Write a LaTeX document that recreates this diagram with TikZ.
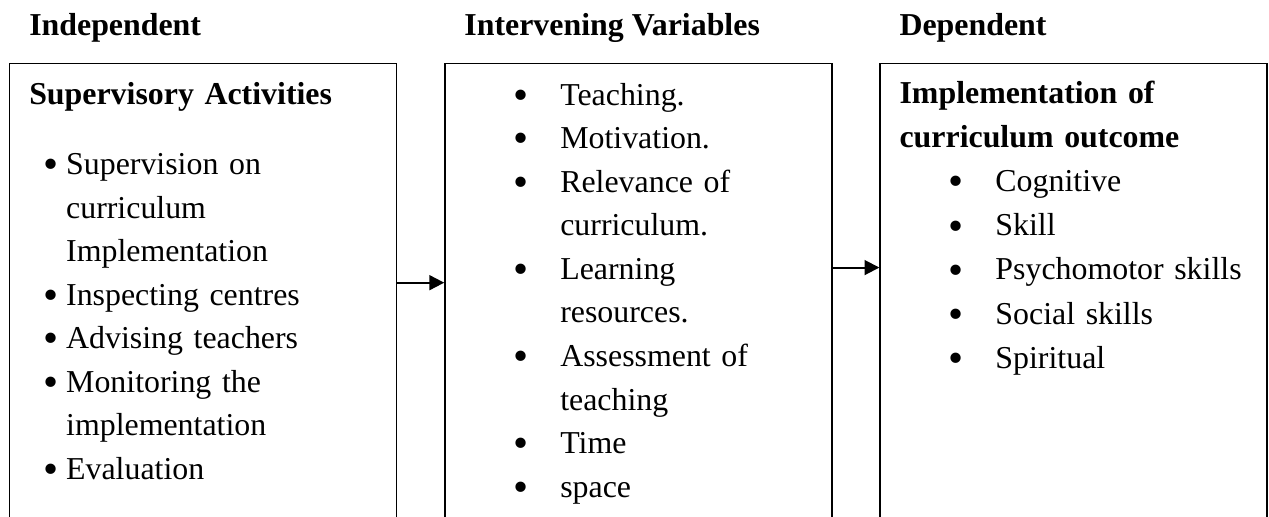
\documentclass[tikz,border=0pt]{standalone}
\usepackage{fontspec}
\setmainfont{Liberation Serif}
\usetikzlibrary{arrows.meta,positioning}

% bullet with hanging indent: narrow (left column) and wide (other columns)
\newcommand{\bigbul}{\raisebox{-1.6pt}{\scalebox{1.35}{\textbullet}}}
\newcommand{\nbul}{\hspace*{5.3pt}\makebox[8.6pt][l]{\bigbul}}
\newcommand{\nind}{\hspace*{13.9pt}}
\newcommand{\wbul}{\hspace*{18.4pt}\makebox[17.7pt][l]{\bigbul}}
\newcommand{\wind}{\hspace*{36.1pt}}

\begin{document}
\begin{tikzpicture}[
  font={\fontsize{12}{16.4}\selectfont},
  column/.style={draw,line width=.5pt,minimum width=5.12cm,minimum height=7cm,inner sep=0pt},
  colhead/.style={font={\fontsize{12}{16.4}\selectfont\bfseries},anchor=base west,inner sep=0pt},
  colitems/.style={anchor=base west,align=left,text width=4.8cm,inner sep=0pt},
  flow/.style={-{Triangle[length=5.6pt,width=5.6pt]},line width=.75pt}
]
\clip (0,0) rectangle (16.79,-6.83);

% the three columns run on past the lower edge
\node[column,anchor=north west] (indep) at (.12,-.83) {};
\node[column,right=.62cm of indep] (interv) {};
\node[column,right=.62cm of interv] (dep) {};

\node[colhead] (indephead) at ([xshift=.26cm,yshift=.36cm]indep.north west) {Independent};
\node[colhead] (intervhead) at ([xshift=.26cm,yshift=.36cm]interv.north west) {Intervening Variables};
\node[colhead] (dephead) at ([xshift=.26cm,yshift=.36cm]dep.north west) {Dependent};

\node[colitems] (indeplist) at ([xshift=.26cm,yshift=-.55cm]indep.north west) {\textbf{Supervisory Activities}\\[10pt]
\nbul Supervision on\\
\nind curriculum\\
\nind Implementation\\
\nbul Inspecting centres\\
\nbul Advising teachers\\
\nbul Monitoring the\\
\nind implementation\\
\nbul Evaluation};

\node[colitems] (intervlist) at ([xshift=.26cm,yshift=-.56cm]interv.north west) {\wbul Teaching.\\
\wbul Motivation.\\
\wbul Relevance of\\
\wind curriculum.\\
\wbul Learning\\
\wind resources.\\
\wbul Assessment of\\
\wind teaching\\
\wbul Time\\
\wbul space};

\node[colitems,font={\fontsize{12}{16.6}\selectfont}] (deplist) at ([xshift=.26cm,yshift=-.54cm]dep.north west) {\textbf{Implementation of}\\
\textbf{curriculum outcome}\\
\wbul Cognitive\\
\wbul Skill\\
\wbul Psychomotor skills\\
\wbul Social skills\\
\wbul Spiritual};

\draw[flow] ([yshift=-2.91cm]indep.north east) -- ([yshift=-2.91cm]interv.north west);
\draw[flow] ([yshift=-2.71cm]interv.north east) -- ([yshift=-2.71cm]dep.north west);
\end{tikzpicture}
\end{document}
